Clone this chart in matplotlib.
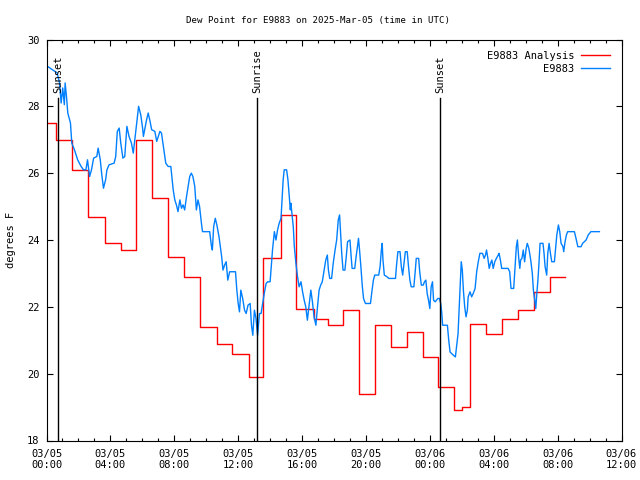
import matplotlib
matplotlib.use('Agg')
import matplotlib.pyplot as plt
from matplotlib.ticker import MultipleLocator

# observed dew point (minutes after 2025-03-05 00:00 UTC, deg F)
obs_min = [3, 40, 49, 55, 61, 67, 70, 75, 80, 90, 95, 105, 117, 130, 139, 148, 154, 162, 169, 177,
           189, 194, 202, 207, 214, 222, 227, 235, 254, 260, 266, 273, 279, 287, 294, 302, 310, 319, 326, 331,
           339, 346, 354, 361, 364, 370, 376, 382, 389, 395, 407, 414, 420, 426, 432, 441, 448, 457, 467, 472,
           476, 482, 488, 494, 501, 507, 513, 519, 526, 532, 538, 544, 550, 557, 563, 569, 575, 582, 586, 613,
           619, 623, 628, 634, 640, 648, 653, 658, 663, 669, 675, 681, 688, 694, 710, 715, 720, 725, 730, 737,
           744, 750, 757, 765, 770, 775, 781, 787, 793, 800, 806, 812, 818, 825, 831, 840, 845, 849, 856, 862,
           868, 874, 881, 885, 889, 893, 902, 907, 912, 916, 918, 922, 927, 931, 937, 943, 949, 956, 962, 968,
           974, 980, 987, 993, 999, 1005, 1012, 1018, 1024, 1030, 1036, 1043, 1049, 1055, 1059, 1064, 1071, 1077, 1084, 1090,
           1096, 1101, 1105, 1109, 1114, 1121, 1126, 1131, 1140, 1144, 1148, 1158, 1163, 1169, 1172, 1176, 1181, 1186, 1191, 1198,
           1217, 1223, 1228, 1233, 1248, 1253, 1258, 1261, 1264, 1269, 1279, 1286, 1311, 1315, 1320, 1328, 1333, 1338, 1343, 1348,
           1355, 1360, 1365, 1370, 1380, 1385, 1389, 1398, 1402, 1408, 1415, 1420, 1425, 1430, 1435, 1440, 1445, 1450, 1454, 1460,
           1470, 1476, 1481, 1485, 1488, 1506, 1511, 1516, 1522, 1536, 1541, 1546, 1550, 1553, 1558, 1562, 1566, 1571, 1576, 1581,
           1584, 1591, 1597, 1603, 1610, 1616, 1622, 1628, 1638, 1644, 1649, 1653, 1658, 1663, 1668, 1673, 1678, 1684, 1690, 1697,
           1700, 1705, 1710, 1734, 1740, 1745, 1755, 1760, 1765, 1769, 1774, 1778, 1781, 1786, 1791, 1796, 1802, 1806, 1812, 1819,
           1825, 1829, 1834, 1838, 1841, 1846, 1850, 1854, 1865, 1869, 1873, 1879, 1883, 1888, 1893, 1898, 1908, 1912, 1917, 1923,
           1928, 1933, 1940, 1943, 1948, 1953, 1958, 1983, 1989, 1996, 2008, 2014, 2027, 2035, 2045, 2077]
obs_val = [29.2, 29.0, 28.7, 28.1, 28.55, 28.05, 28.7, 28.3, 27.8, 27.5, 26.9, 26.7, 26.4, 26.2, 26.1, 26.1, 26.4, 25.9, 26.1, 26.45,
           26.5, 26.75, 26.4, 26.0, 25.55, 25.8, 26.1, 26.25, 26.3, 26.5, 27.25, 27.35, 26.9, 26.45, 26.5, 27.4, 27.1, 26.9, 26.6, 26.95,
           27.5, 28.0, 27.75, 27.35, 27.1, 27.35, 27.6, 27.8, 27.55, 27.3, 27.25, 26.95, 27.1, 27.25, 27.2, 26.7, 26.3, 26.2, 26.2, 25.8,
           25.5, 25.2, 25.05, 24.85, 25.2, 24.95, 25.05, 24.9, 25.3, 25.6, 25.9, 26.0, 25.9, 25.6, 24.9, 25.2, 25.0, 24.5, 24.25, 24.25,
           23.85, 23.7, 24.4, 24.65, 24.45, 24.1, 23.8, 23.5, 23.1, 23.25, 23.35, 22.8, 23.05, 23.05, 23.05, 22.5, 22.1, 21.85, 22.5, 22.25,
           21.9, 21.8, 22.05, 22.1, 21.45, 21.15, 21.9, 21.65, 21.15, 21.8, 21.8, 22.1, 22.4, 22.7, 22.75, 22.75, 23.3, 23.7, 24.25, 24.0,
           24.3, 24.5, 24.65, 25.2, 25.8, 26.1, 26.1, 25.8, 25.3, 24.9, 25.1, 24.8, 24.4, 23.8, 23.3, 22.9, 22.6, 22.75, 22.45, 22.2,
           22.0, 21.6, 22.1, 22.5, 22.15, 21.7, 21.45, 22.0, 22.5, 22.65, 22.75, 23.1, 23.4, 23.55, 23.1, 22.85, 22.85, 23.3, 23.7, 24.0,
           24.6, 24.75, 24.2, 23.6, 23.1, 23.1, 23.5, 23.95, 24.0, 23.55, 23.15, 23.15, 23.5, 23.85, 24.05, 23.7, 23.2, 22.65, 22.25, 22.1,
           22.1, 22.5, 22.8, 22.95, 22.95, 23.2, 23.7, 23.9, 23.4, 22.95, 22.9, 22.85, 22.85, 23.25, 23.65, 23.65, 23.2, 22.95, 23.3, 23.65,
           23.65, 23.2, 22.8, 22.6, 22.6, 23.05, 23.45, 23.45, 23.05, 22.65, 22.65, 22.75, 22.8, 22.4, 22.2, 21.95, 22.6, 22.75, 22.2, 22.15,
           22.25, 22.25, 22.1, 21.8, 21.45, 21.45, 21.0, 20.65, 20.6, 20.5, 20.85, 21.2, 21.9, 22.4, 23.35, 23.1, 22.5, 22.0, 21.7, 21.9,
           22.3, 22.45, 22.3, 22.4, 22.55, 23.05, 23.35, 23.6, 23.6, 23.45, 23.55, 23.7, 23.45, 23.15, 23.3, 23.4, 23.15, 23.35, 23.45, 23.55,
           23.6, 23.4, 23.15, 23.15, 23.05, 22.55, 22.55, 23.2, 23.8, 24.0, 23.45, 23.15, 23.4, 23.45, 23.7, 23.35, 23.75, 23.9, 23.75, 23.4,
           23.0, 22.5, 22.2, 21.95, 22.3, 22.8, 23.3, 23.9, 23.9, 23.6, 23.2, 22.95, 23.6, 23.9, 23.6, 23.35, 23.35, 23.7, 24.15, 24.45,
           24.25, 23.9, 23.8, 23.65, 23.95, 24.15, 24.25, 24.25, 24.05, 23.8, 23.8, 23.9, 24.0, 24.15, 24.25, 24.25]

# hourly analysis values (step changes)
ana_min = [0, 34, 97, 157, 219, 280, 336, 396, 458, 518, 577, 639, 697, 759, 815, 880, 936, 1003, 1056, 1114,
           1173, 1235, 1295, 1355, 1414, 1472, 1532, 1562, 1592, 1652, 1712, 1771, 1831, 1893, 1947]
ana_val = [27.5, 27.0, 26.1, 24.7, 23.9, 23.7, 27.0, 25.25, 23.5, 22.9, 21.4, 20.9, 20.6, 19.9, 23.45, 24.75, 21.95, 21.65, 21.45, 21.9,
           19.4, 21.45, 20.8, 21.25, 20.5, 19.6, 18.9, 19.0, 21.5, 21.2, 21.65, 21.9, 22.45, 22.9, 22.9]

sun_min = [43, 791, 1480]
sun_txt = ['Sunset', 'Sunrise', 'Sunset']

xtick_min = [0, 240, 480, 720, 960, 1200, 1440, 1680, 1920, 2160]
xtick_lbl = ['03/05\n00:00', '03/05\n04:00', '03/05\n08:00', '03/05\n12:00', '03/05\n16:00',
             '03/05\n20:00', '03/06\n00:00', '03/06\n04:00', '03/06\n08:00', '03/06\n12:00']

plt.rcParams['font.family'] = 'DejaVu Sans Mono'
plt.rcParams['font.size'] = 7

fig = plt.figure(figsize=(6.4, 4.8), dpi=100)
ax = fig.add_axes([46.5 / 640, 39.5 / 480, 575 / 640, 401 / 480])

ax.step(ana_min, ana_val, where='post', color='#ff0000', lw=1.0, label='E9883 Analysis')
ax.plot(obs_min, obs_val, color='#0080ff', lw=1.0, label='E9883')

for m, t in zip(sun_min, sun_txt):
    ax.plot([m, m], [18, 28.25], color='black', lw=1.0)
    ax.text(m, 28.4, t, rotation=90, ha='center', va='bottom', fontsize=7.5)

ax.set_xlim(0, 2160)
ax.set_ylim(18, 30)
ax.set_xticks(xtick_min)
ax.set_xticklabels(xtick_lbl)
ax.xaxis.set_minor_locator(MultipleLocator(60))
ax.yaxis.set_major_locator(MultipleLocator(2))
ax.tick_params(which='both', direction='in', top=True, right=True, labelsize=7.5)
ax.tick_params(which='major', length=4, width=0.8)
ax.tick_params(which='minor', length=2, width=0.8)
ax.tick_params(axis='x', pad=6)
ax.tick_params(axis='y', pad=5)

ax.set_ylabel('degrees F', fontsize=7.5)
ax.yaxis.set_label_coords(-0.053, 0.5)
fig.text(0.497, 1 - 20 / 480, 'Dew Point for E9883 on 2025-Mar-05 (time in UTC)',
         fontsize=6.6, ha='center', va='center')
ax.legend(loc='upper right', frameon=False, fontsize=7.5, markerfirst=False,
          handlelength=2.8, borderaxespad=0.7, labelspacing=0.3, handletextpad=0.6)

fig.savefig('out.png', dpi=100)
